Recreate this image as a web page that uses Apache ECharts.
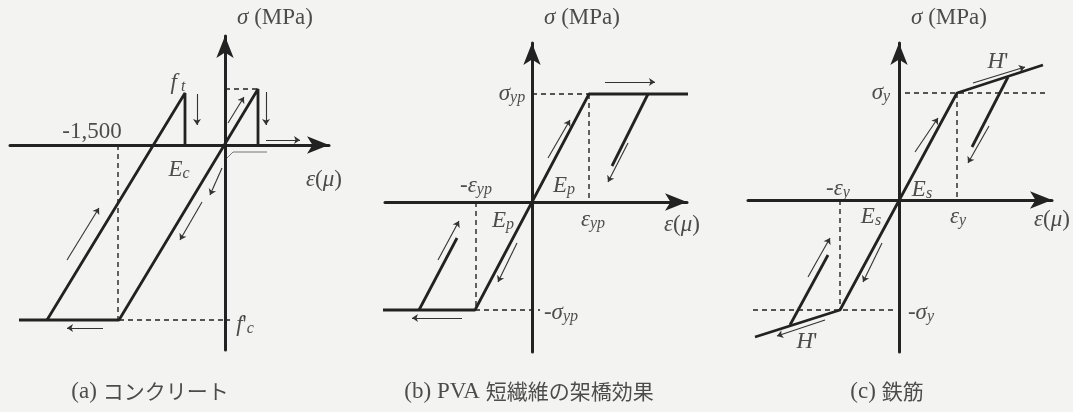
<!DOCTYPE html>
<html>
<head>
<meta charset="utf-8">
<script src="https://cdn.jsdelivr.net/npm/echarts@6/dist/echarts.min.js"></script>
<style>
    html, body { margin: 0; padding: 0; background: #f3f3f1; }
    #chart { width: 1073px; height: 412px; }
</style>
</head>
<body>
<div id="chart"></div>
<script>
// 模式図: 1単位 = 1px 相当の概略座標 (原点 = 軸の交点)

// (a) コンクリート
var aRight = [[-206, -175], [-106, -175], [33, 56], [33, 0]]
var aLeft = [[-178, -175], [-40, 52], [-40, 0]]
var aDashed = [
    [[0, 56], [33, 56]],
    [[-107, 0], [-107, -175]],
    [[-106, -175], [5, -175]]
]
var aShadow = [[2, -13], [8, -7], [42, -7]]
var aArrows = [
    [[-28, 51], [-28, 20]],
    [[41, 53], [41, 20]],
    [[41, 5], [75, 5]],
    [[3, 22], [19, 48]],
    [[-3, -23], [-15, -50]],
    [[-23, -57], [-45, -95]],
    [[-158, -115], [-126, -63]],
    [[-122, -183], [-158, -183]]
]
var aLabels = [
    [-133, 13, '{rm|-1,500}'],
    [-47, 62, '{it|f}{sub| t}'],
    [-46, -25, '{it|E}{sub|c}'],
    [20, -180, '{it|f}{rm|\'}{sub|c}'],
    [50, 127, '{it|σ}{rm| (MPa)}'],
    [99, -35, '{it|ε}{rm|(}{it|μ}{rm|)}'],
    [-75, -247, '{rm|(a) }{jp|コンクリート}']
]

// (b) PVA 短繊維の架橋効果
var bMain = [[-155, -108], [-57, -108], [57, 108], [156, 108]]
var bUnload = [[116, 108], [80, 36]]
var bReload = [[-113, -108], [-75, -36]]
var bDashed = [
    [[0, 108], [57, 108]],
    [[57, 108], [57, 0]],
    [[-56, 0], [-56, -108]],
    [[-57, -108], [8, -108]]
]
var bArrows = [
    [[73, 120], [123, 120]],
    [[16, 44], [38, 82]],
    [[-15, -41], [-34, -80]],
    [[96, 59], [76, 20]],
    [[-70, -116], [-120, -116]],
    [[-94, -58], [-73, -19]]
]
var bLabels = [
    [-20, 108, '{it|σ}{sub|yp}'],
    [-56, 16, '{rm|-}{it|ε}{sub|yp}'],
    [32, 16, '{it|E}{sub|p}'],
    [-29, -19, '{it|E}{sub|p}'],
    [61, -18, '{it|ε}{sub|yp}'],
    [150, -23, '{it|ε}{rm|(}{it|μ}{rm|)}'],
    [29, -111, '{rm|-}{it|σ}{sub|yp}'],
    [50, 184, '{it|σ}{rm| (MPa)}'],
    [-3, -190, '{rm|(b) PVA }{jp|短繊維の架橋効果}']
]

// (c) 鉄筋
var cMain = [[-144, -137], [-59, -110], [58, 107], [144, 135]]
var cUnload = [[109, 123], [73, 53]]
var cReload = [[-109, -125], [-71, -55]]
var cDashed = [
    [[6, 107], [148, 107]],
    [[58, 107], [58, 0]],
    [[-59, 0], [-59, -110]],
    [[-146, -110], [-2, -110]]
]
var cArrows = [
    [[74, 117], [126, 133]],
    [[16, 48], [39, 82]],
    [[90, 74], [69, 37]],
    [[-17, -43], [-36, -82]],
    [[-91, -77], [-69, -38]],
    [[-74, -120], [-122, -136]]
]
var cLabels = [
    [-18, 107, '{it|σ}{sub|y}'],
    [-61, 11, '{rm|-}{it|ε}{sub|y}'],
    [23, 10, '{it|E}{sub|s}'],
    [-28, -17, '{it|E}{sub|s}'],
    [59, -17, '{it|ε}{sub|y}'],
    [153, -20, '{it|ε}{rm|(}{it|μ}{rm|)}'],
    [22, -113, '{rm|-}{it|σ}{sub|y}'],
    [99, 138, '{it|H}{rm|\'}'],
    [-92, -142, '{it|H}{rm|\'}'],
    [50, 182, '{it|σ}{rm| (MPa)}'],
    [-12, -192, '{rm|(c) }{jp|鉄筋}']
]

// パネル配置: 原点ピクセル位置と軸範囲
var panels = [
    { ox: 225, oy: 145, xmin: -215, xmax: 104, ymin: -205, ymax: 109 },
    { ox: 532, oy: 202, xmin: -147, xmax: 155, ymin: -150, ymax: 159 },
    { ox: 899, oy: 200, xmin: -151, xmax: 153, ymin: -152, ymax: 157 }
]

var ink = '#222222'
var serif = '"Liberation Serif", "Times New Roman", serif'
var rich = {
    it: { fontFamily: serif, fontStyle: 'italic', fontSize: 23, color: ink, verticalAlign: 'top', lineHeight: 24 },
    rm: { fontFamily: serif, fontSize: 23, color: ink, verticalAlign: 'top', lineHeight: 24 },
    sub: { fontFamily: serif, fontStyle: 'italic', fontSize: 16, color: ink, verticalAlign: 'bottom', padding: [10, 0, 0, 0], lineHeight: 18 },
    jp: { fontFamily: '"Noto Sans CJK JP"', fontSize: 21, color: ink, verticalAlign: 'top', lineHeight: 24, padding: [1, 0, 0, 0] }
}

var grids = []
var xAxes = []
var yAxes = []
var series = []

function axis(i, min, max) {
    return {
        type: 'value', gridIndex: i, min: min, max: max,
        axisLine: {
            onZero: true, symbol: ['none', 'arrow'], symbolSize: [13, 22],
            lineStyle: { color: ink, width: 3 }
        },
        axisTick: { show: false },
        axisLabel: { show: false },
        splitLine: { show: false }
    }
}

function solid(i, pts, width, color) {
    series.push({
        type: 'line', xAxisIndex: i, yAxisIndex: i, data: pts,
        showSymbol: false, symbol: 'none', silent: true,
        lineStyle: { color: color || ink, width: width || 2.8 }
    })
}

function dashed(i, segs) {
    segs.forEach(function (s) {
        series.push({
            type: 'line', xAxisIndex: i, yAxisIndex: i, data: s,
            showSymbol: false, symbol: 'none', silent: true,
            lineStyle: { color: ink, width: 1.4, type: [5, 4] }
        })
    })
}

function arrows(i, list) {
    series.push({
        type: 'lines', coordinateSystem: 'cartesian2d', xAxisIndex: i, yAxisIndex: i,
        symbol: ['none', 'arrow'], symbolSize: 6, silent: true,
        lineStyle: { color: '#333', width: 1.1, opacity: 1 },
        data: list.map(function (c) { return { coords: c } })
    })
}

function labels(i, list) {
    series.push({
        type: 'scatter', xAxisIndex: i, yAxisIndex: i, clip: false,
        symbolSize: 0, silent: true,
        data: list.map(function (l) { return { value: [l[0], l[1]], txt: l[2] } }),
        label: {
            show: true, position: 'inside', rich: rich,
            formatter: function (p) { return p.data.txt }
        }
    })
}

panels.forEach(function (p, i) {
    grids.push({
        left: p.ox + p.xmin, top: p.oy - p.ymax,
        width: p.xmax - p.xmin, height: p.ymax - p.ymin
    })
    xAxes.push(axis(i, p.xmin, p.xmax))
    yAxes.push(axis(i, p.ymin, p.ymax))
})

// (a)
solid(0, aRight)
solid(0, aLeft)
solid(0, aShadow, 1, '#777')
dashed(0, aDashed)
arrows(0, aArrows)
labels(0, aLabels)
// (b)
solid(1, bMain)
solid(1, bUnload)
solid(1, bReload)
dashed(1, bDashed)
arrows(1, bArrows)
labels(1, bLabels)
// (c)
solid(2, cMain)
solid(2, cUnload)
solid(2, cReload)
dashed(2, cDashed)
arrows(2, cArrows)
labels(2, cLabels)

var chart = echarts.init(document.getElementById('chart'))
chart.setOption({
    backgroundColor: '#f3f3f1',
    animation: false,
    grid: grids,
    xAxis: xAxes,
    yAxis: yAxes,
    series: series
})
</script>
</body>
</html>
